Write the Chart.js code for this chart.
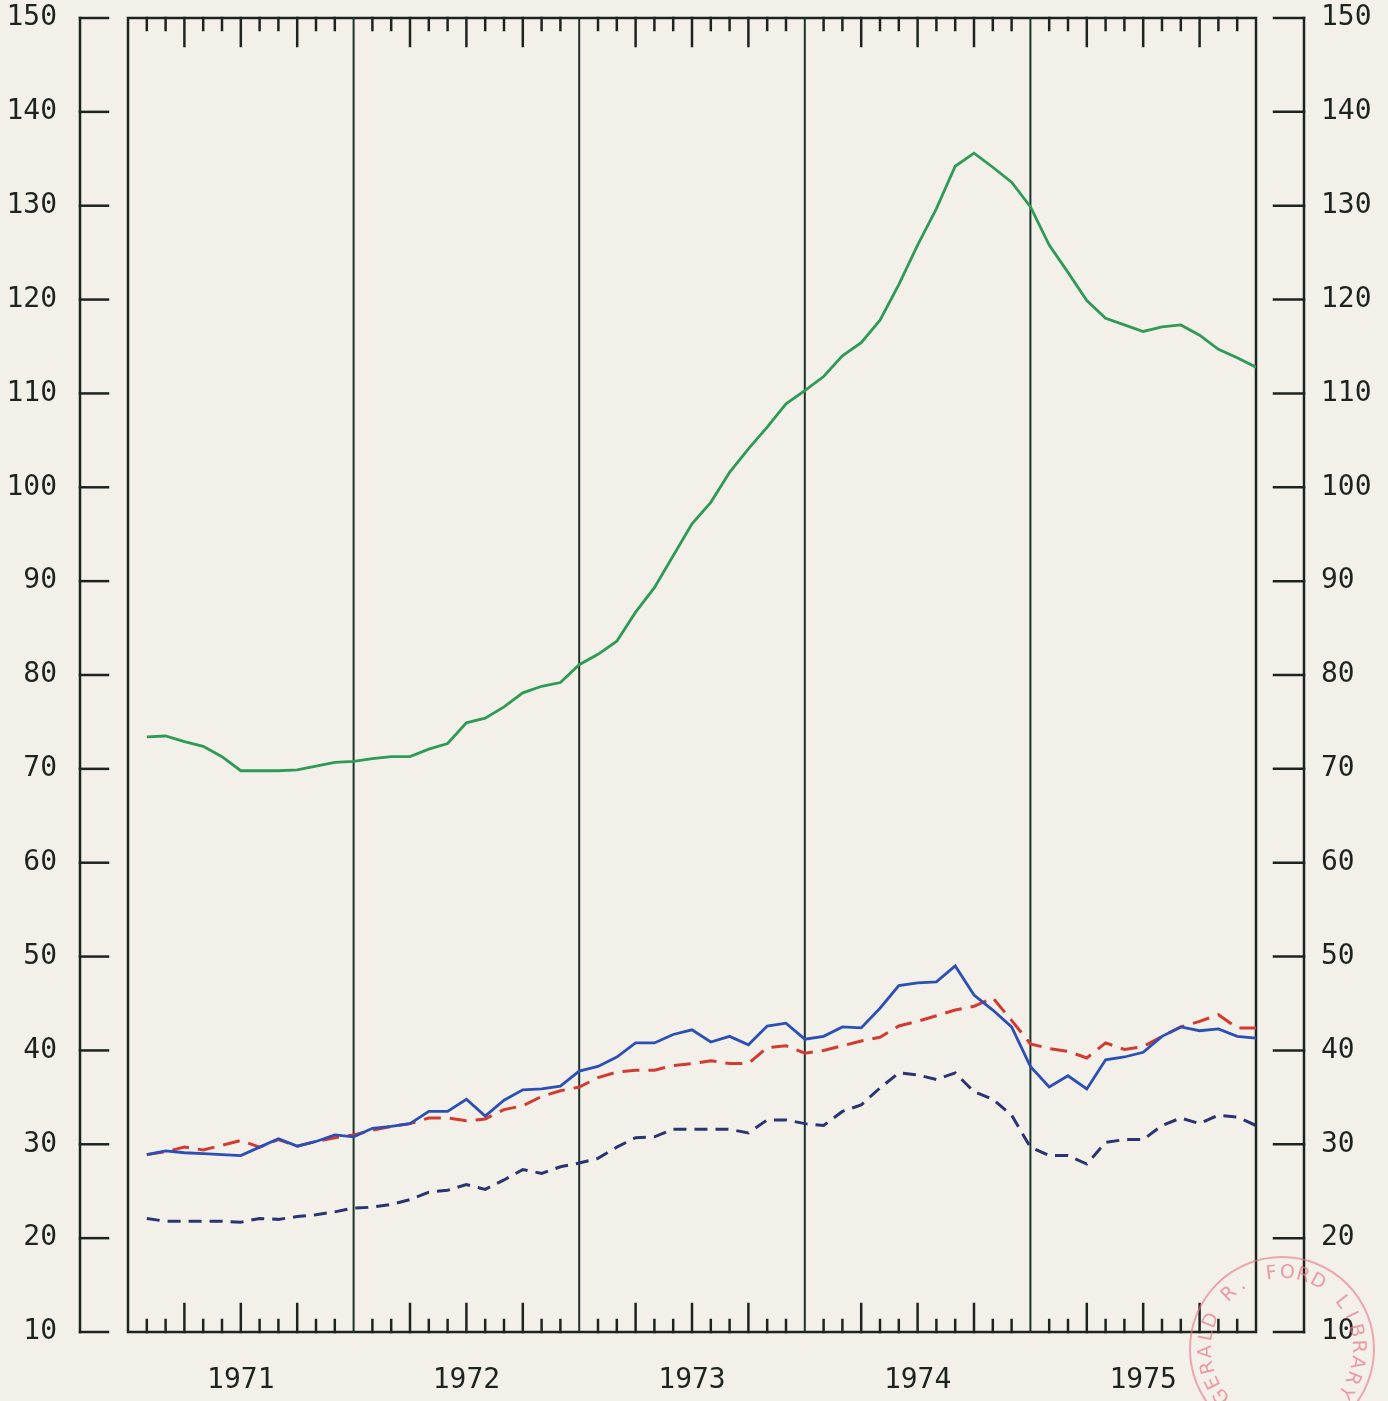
<!DOCTYPE html>
<html>
<head>
<meta charset="utf-8">
<title>1971-1975</title>
<script src="https://cdn.jsdelivr.net/npm/chart.js@4.4.1/dist/chart.umd.min.js"></script>
<style>
  html, body { margin: 0; padding: 0; background: #f3f0ea; }
  #wrap { width: 1388px; height: 1401px; position: relative; }
</style>
</head>
<body>
<div id="wrap"><canvas id="myChart"></canvas></div>
<script>
"use strict";

const years = ["1971", "1972", "1973", "1974", "1975"];
// month index, end of each month from Jan 1971 to Dec 1975
const months = Array.from({ length: 60 }, (v, k) => k + 1);

const greenLine = [
  73.4, 73.5, 72.9, 72.4, 71.3, 69.8, 69.8, 69.8, 69.9, 70.3, 70.7, 70.8,
  71.1, 71.3, 71.3, 72.1, 72.7, 74.9, 75.4, 76.6, 78.1, 78.8, 79.2, 81.1,
  82.2, 83.6, 86.7, 89.3, 92.7, 96.1, 98.4, 101.6, 104.1, 106.4, 108.9, 110.3,
  111.8, 114.0, 115.4, 117.8, 121.6, 125.8, 129.7, 134.2, 135.6, 134.1, 132.5, 129.9,
  125.8, 122.9, 119.9, 118.0, 117.3, 116.6, 117.1, 117.3, 116.2, 114.7, 113.8, 112.8,
];
const blueLine = [
  28.9, 29.3, 29.1, 29.0, 28.9, 28.8, 29.7, 30.6, 29.8, 30.3, 31.0, 30.8,
  31.7, 31.9, 32.2, 33.5, 33.5, 34.8, 33.0, 34.7, 35.8, 35.9, 36.2, 37.8,
  38.3, 39.3, 40.8, 40.8, 41.7, 42.2, 40.9, 41.5, 40.6, 42.6, 42.9, 41.2,
  41.5, 42.5, 42.4, 44.5, 46.9, 47.2, 47.3, 49.0, 45.9, 44.3, 42.5, 38.3,
  36.1, 37.3, 35.9, 39.0, 39.3, 39.8, 41.5, 42.5, 42.1, 42.3, 41.5, 41.3,
];
const redDashed = [
  28.9, 29.2, 29.7, 29.4, 29.9, 30.4, 29.7, 30.5, 29.8, 30.3, 30.7, 31.0,
  31.5, 31.9, 32.2, 32.8, 32.8, 32.5, 32.7, 33.7, 34.1, 35.1, 35.7, 36.1,
  37.1, 37.7, 37.9, 37.9, 38.4, 38.6, 38.9, 38.6, 38.6, 40.3, 40.5, 39.7,
  40.0, 40.5, 41.0, 41.4, 42.6, 43.1, 43.7, 44.3, 44.7, 45.6, 43.2, 40.7,
  40.2, 39.9, 39.2, 40.8, 40.1, 40.4, 41.5, 42.5, 43.1, 43.8, 42.4, 42.4,
];
const navyDashed = [
  22.1, 21.8, 21.8, 21.8, 21.8, 21.7, 22.1, 22.0, 22.3, 22.5, 22.8, 23.2,
  23.3, 23.6, 24.1, 24.9, 25.1, 25.7, 25.2, 26.2, 27.3, 26.9, 27.6, 28.0,
  28.5, 29.7, 30.7, 30.8, 31.6, 31.6, 31.6, 31.6, 31.2, 32.6, 32.6, 32.2,
  32.0, 33.5, 34.2, 36.0, 37.6, 37.4, 36.9, 37.6, 35.6, 34.8, 33.1, 29.7,
  28.8, 28.8, 27.9, 30.2, 30.5, 30.5, 32.0, 32.8, 32.2, 33.1, 32.9, 32.0,
];

const ink = "#1d2420";
const labelFont = { family: "'DejaVu Sans Mono', monospace", size: 28 };

const toPoints = (values) => months.map((m, i) => ({ x: m, y: values[i] }));

// invisible tick marks: they only push the labels away from the frame
const hiddenGrid = (len) => ({
  display: true,
  drawOnChartArea: false,
  drawTicks: true,
  tickLength: len,
  color: "rgba(0,0,0,0)",
});

// frame, year dividers, month ticks and the two detached side scales
const framePlugin = {
  id: "frame",
  beforeDraw(chart) {
    const ctx = chart.ctx;
    ctx.save();
    ctx.fillStyle = "#f3f0ea";
    ctx.fillRect(0, 0, chart.width, chart.height);
    ctx.restore();
  },
  beforeDatasetsDraw(chart) {
    const { ctx, chartArea: a, scales } = chart;
    const xs = scales.x;
    const ys = scales.y;
    const seg = (x1, y1, x2, y2) => {
      ctx.beginPath();
      ctx.moveTo(x1, y1);
      ctx.lineTo(x2, y2);
      ctx.stroke();
    };
    ctx.save();
    ctx.strokeStyle = ink;
    ctx.lineWidth = 2.5;
    ctx.lineCap = "square";
    ctx.strokeRect(a.left, a.top, a.right - a.left, a.bottom - a.top);

    ctx.strokeStyle = "#1b3329";
    ctx.lineWidth = 2;
    for (let m = 12; m < 60; m += 12) {
      const px = xs.getPixelForValue(m);
      seg(px, a.top, px, a.bottom);
    }

    ctx.strokeStyle = ink;
    ctx.lineWidth = 2.5;
    for (let m = 1; m < 60; m++) {
      if (m % 12 === 0) continue;
      const len = m % 3 === 0 ? 28 : 12;
      const px = xs.getPixelForValue(m);
      seg(px, a.top, px, a.top + len);
      seg(px, a.bottom - len, px, a.bottom);
    }

    const leftX = a.left - 48;
    const rightX = a.right + 48;
    seg(leftX, ys.getPixelForValue(150), leftX, ys.getPixelForValue(10));
    seg(rightX, ys.getPixelForValue(150), rightX, ys.getPixelForValue(10));
    ys.ticks.forEach((t) => {
      const py = ys.getPixelForValue(t.value);
      seg(leftX, py, leftX + 28, py);
      seg(rightX - 30, py, rightX, py);
    });
    ctx.restore();
  },
  afterDraw(chart) {
    // faint library stamp in the bottom right corner
    const { ctx, chartArea: a } = chart;
    const cx = a.right + 26;
    const cy = a.bottom + 17;
    ctx.save();
    ctx.strokeStyle = "rgba(228, 118, 130, 0.6)";
    ctx.fillStyle = "rgba(228, 118, 130, 0.7)";
    ctx.lineWidth = 2;
    ctx.beginPath();
    ctx.arc(cx, cy, 92, 0, Math.PI * 2);
    ctx.stroke();
    const text = "GERALD R. FORD LIBRARY";
    ctx.font = "19px 'DejaVu Sans', sans-serif";
    ctx.textAlign = "center";
    ctx.textBaseline = "middle";
    const start = (142 * Math.PI) / 180;
    const step = (12 * Math.PI) / 180;
    for (let i = 0; i < text.length; i++) {
      const ang = start + i * step;
      ctx.save();
      ctx.translate(cx + 76 * Math.cos(ang), cy + 76 * Math.sin(ang));
      ctx.rotate(ang + Math.PI / 2);
      ctx.fillText(text[i], 0, 0);
      ctx.restore();
    }
    ctx.restore();
  },
};

const config = {
  type: "line",
  data: {
    datasets: [
      {
        label: "green",
        data: toPoints(greenLine),
        borderColor: "#2f9a55",
        borderWidth: 2.8,
      },
      {
        label: "blue",
        data: toPoints(blueLine),
        borderColor: "#2c4fb5",
        borderWidth: 2.8,
      },
      {
        label: "red dashed",
        data: toPoints(redDashed),
        borderColor: "#d23b30",
        borderWidth: 3,
        borderDash: [17, 9],
      },
      {
        label: "navy dashed",
        data: toPoints(navyDashed),
        borderColor: "#2a3470",
        borderWidth: 3,
        borderDash: [13, 8],
      },
    ],
  },
  options: {
    responsive: true,
    maintainAspectRatio: false,
    animation: false,
    layout: {
      padding: { top: 18, left: 0, right: 0, bottom: 0 },
    },
    elements: {
      point: { radius: 0 },
      line: { tension: 0, fill: false, borderCapStyle: "butt" },
    },
    plugins: {
      legend: { display: false },
      tooltip: { enabled: false },
    },
    scales: {
      x: {
        type: "linear",
        min: 0,
        max: 60,
        grid: hiddenGrid(32),
        border: { display: false },
        afterBuildTicks: (scale) => {
          scale.ticks = years.map((y, i) => ({ value: 12 * i + 6 }));
        },
        ticks: {
          autoSkip: false,
          maxRotation: 0,
          padding: 0,
          color: ink,
          font: labelFont,
          callback: (value) => years[(value - 6) / 12],
        },
        afterFit: (scale) => {
          scale.height = 69;
        },
      },
      y: {
        position: "left",
        min: 10,
        max: 150,
        grid: hiddenGrid(71),
        border: { display: false },
        ticks: { stepSize: 10, padding: 0, color: ink, font: labelFont },
        afterFit: (scale) => {
          scale.width = 128;
        },
      },
      y2: {
        position: "right",
        min: 10,
        max: 150,
        grid: hiddenGrid(65),
        border: { display: false },
        ticks: { stepSize: 10, padding: 0, color: ink, font: labelFont },
        afterFit: (scale) => {
          scale.width = 132;
        },
      },
    },
  },
  plugins: [framePlugin],
};

const myChart = new Chart(document.getElementById("myChart"), config);
</script>
</body>
</html>
